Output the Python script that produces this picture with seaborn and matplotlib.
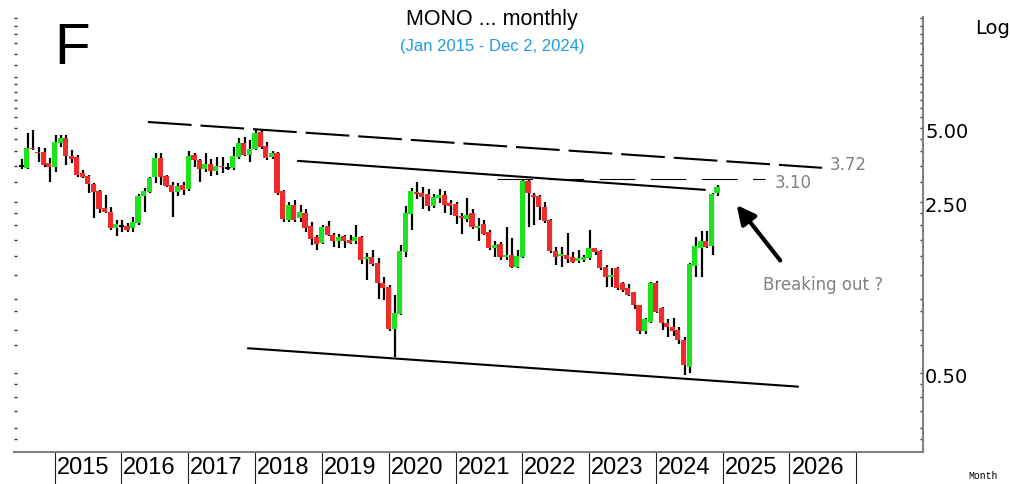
import matplotlib
matplotlib.use("Agg")
import numpy as np
import pandas as pd
import matplotlib.pyplot as plt
import matplotlib.dates as mdates
import matplotlib.transforms as mtransforms
from matplotlib.ticker import FixedLocator, NullFormatter
import seaborn as sns

# monthly candles, Jul 2014 .. Dec 2024
months = pd.date_range("2014-07-01", periods=126, freq="MS")

open_ = [3.49, 3.42, 4.13, 3.99, 3.99, 3.59, 3.46, 4.33, 4.53, 3.83,
         3.79, 3.27, 3.18, 2.95, 2.76, 2.35, 2.27, 1.95, 1.99, 1.99,
         1.95, 2.04, 2.63, 2.73, 3.15, 3.76, 3.18, 2.92, 2.73, 2.92,
         2.81, 3.87, 3.70, 3.39, 3.56, 3.33, 3.49, 3.42, 3.42, 3.79,
         4.33, 3.87, 4.09, 4.80, 4.21, 3.79, 3.95, 2.76, 2.10, 2.42,
         2.14, 2.25, 1.99, 1.79, 1.70, 1.99, 1.83, 1.72, 1.81, 1.74,
         1.72, 1.79, 1.46, 1.49, 1.41, 1.17, 1.12, 0.76, 0.87, 1.56,
         2.22, 2.73, 2.71, 2.68, 2.40, 2.59, 2.66, 2.47, 2.45, 2.18,
         2.12, 2.25, 1.95, 2.03, 1.88, 1.61, 1.68, 1.49, 1.52, 1.35,
         1.49, 3.04, 2.66, 2.63, 2.38, 2.10, 1.58, 1.50, 1.52, 1.49,
         1.43, 1.45, 1.47, 1.61, 1.58, 1.35, 1.23, 1.34, 1.16, 1.11,
         1.07, 0.95, 0.74, 0.81, 1.17, 0.92, 0.80, 0.77, 0.75, 0.68,
         0.53, 1.37, 1.61, 1.72, 1.65, 2.71]
close_ = [3.49, 4.13, 4.09, 3.95, 3.52, 3.46, 4.37, 4.53, 3.83, 3.72,
          3.21, 3.15, 2.95, 2.73, 2.33, 2.27, 1.95, 2.03, 1.99, 1.92,
          2.06, 2.63, 2.76, 3.12, 3.76, 3.15, 2.89, 2.73, 2.89, 2.79,
          3.83, 3.70, 3.39, 3.56, 3.33, 3.49, 3.46, 3.42, 3.83, 4.33,
          3.87, 4.09, 4.75, 4.17, 3.76, 3.95, 2.71, 2.12, 2.42, 2.10,
          2.27, 1.95, 1.76, 1.68, 1.97, 1.83, 1.72, 1.79, 1.72, 1.70,
          1.79, 1.45, 1.49, 1.39, 1.16, 1.11, 0.76, 0.88, 1.58, 2.24,
          2.76, 2.68, 2.61, 2.40, 2.61, 2.66, 2.42, 2.40, 2.18, 2.14,
          2.20, 1.97, 1.99, 1.84, 1.61, 1.67, 1.49, 1.52, 1.35, 1.50,
          3.04, 2.71, 2.61, 2.38, 2.08, 1.58, 1.49, 1.53, 1.46, 1.42,
          1.47, 1.49, 1.61, 1.56, 1.34, 1.23, 1.25, 1.11, 1.09, 1.04,
          0.95, 0.74, 0.83, 1.17, 0.89, 0.80, 0.77, 0.74, 0.68, 0.54,
          1.39, 1.65, 1.72, 1.63, 2.68, 2.87]
high_ = [3.72, 4.75, 4.89, 4.17, 4.13, 3.76, 4.66, 4.66, 4.66, 4.05,
         3.87, 3.36, 3.21, 2.98, 2.79, 2.66, 2.38, 2.10, 2.10, 2.04,
         2.16, 2.68, 2.84, 3.15, 3.95, 3.95, 3.21, 3.01, 2.98, 3.01,
         4.03, 3.95, 3.72, 3.95, 3.72, 3.79, 3.79, 3.59, 4.17, 4.53,
         4.58, 4.46, 4.89, 4.93, 4.37, 4.03, 3.99, 2.79, 2.49, 2.54,
         2.42, 2.33, 2.06, 1.83, 2.01, 2.08, 1.86, 1.84, 1.83, 1.83,
         2.01, 1.81, 1.55, 1.59, 1.47, 1.23, 1.14, 1.04, 1.66, 2.40,
         2.84, 3.01, 2.87, 2.81, 2.68, 2.81, 2.76, 2.54, 2.49, 2.25,
         2.59, 2.33, 2.14, 2.10, 1.92, 1.72, 1.71, 1.97, 1.78, 1.59,
         3.10, 3.08, 2.71, 2.66, 2.49, 2.12, 1.63, 1.63, 1.86, 1.56,
         1.59, 1.52, 1.92, 1.62, 1.59, 1.38, 1.34, 1.35, 1.18, 1.15,
         1.07, 0.95, 0.84, 1.18, 1.19, 0.93, 0.83, 0.84, 0.77, 0.70,
         1.41, 1.79, 1.90, 1.90, 2.71, 2.92]
low_ = [3.39, 3.39, 4.05, 3.63, 3.46, 3.01, 3.31, 4.17, 3.52, 3.59,
        3.15, 3.12, 2.71, 2.14, 2.25, 2.25, 1.92, 1.81, 1.88, 1.88,
        1.88, 2.01, 2.27, 2.71, 2.98, 2.92, 2.87, 2.16, 2.63, 2.66,
        2.76, 3.46, 3.01, 3.31, 3.18, 3.21, 3.27, 3.36, 3.36, 3.72,
        3.83, 3.63, 4.05, 4.09, 3.70, 3.72, 2.66, 2.06, 2.06, 2.06,
        2.06, 1.88, 1.66, 1.59, 1.68, 1.81, 1.63, 1.61, 1.61, 1.68,
        1.68, 1.39, 1.20, 1.37, 1.00, 0.99, 0.74, 0.585, 0.86, 1.49,
        1.92, 2.57, 2.33, 2.29, 2.35, 2.47, 2.25, 2.20, 2.03, 1.84,
        2.06, 1.93, 1.72, 1.83, 1.59, 1.49, 1.45, 1.45, 1.34, 1.34,
        1.47, 1.97, 2.01, 2.10, 2.04, 1.55, 1.38, 1.35, 1.41, 1.41,
        1.41, 1.42, 1.45, 1.52, 1.31, 1.12, 1.12, 1.09, 1.07, 1.03,
        0.91, 0.72, 0.72, 0.80, 0.88, 0.75, 0.70, 0.71, 0.66, 0.49,
        0.50, 1.23, 1.23, 1.61, 1.52, 2.63]

# trend lines drawn on the chart (date, price)
upper_dash_dates = ["2016-05-25", "2026-06-28"]
upper_dash_prices = [5.27, 3.43]
upper_line_dates = ["2018-08-23", "2024-09-26"]
upper_line_prices = [3.66, 2.79]
resist_dates = ["2021-08-16", "2025-08-20"]
resist_prices = [3.10, 3.10]
lower_line_dates = ["2017-11-23", "2026-02-17"]
lower_line_prices = [0.632, 0.441]
arrow_tip = ("2025-03-09", 2.47)
arrow_tail = ("2025-11-21", 1.41)

years = list(range(2015, 2027))
price_ticks = [5.0, 2.5, 0.5]
price_tick_labels = ["5.00", "2.50", "0.50"]
minor_prices = [14, 13, 12, 11, 10, 9, 8, 7.5, 7, 6.5, 6, 5.5, 4.5, 4, 3.5, 3,
                2.25, 2, 1.75, 1.5, 1.25, 1, 0.9, 0.75, 0.65, 0.45, 0.4, 0.35,
                0.3, 0.27]

sns.set_style("white")
plt.rcParams["font.family"] = ["DejaVu Sans"]
plt.rcParams["text.color"] = "black"
plt.rcParams["xtick.color"] = "black"
plt.rcParams["ytick.color"] = "black"

fig = plt.figure(figsize=(10.1, 4.84), dpi=100)
ax = fig.add_axes([14 / 1010, 32 / 484, 909 / 1010, 435 / 484])

df = pd.DataFrame({"date": months, "open": open_, "close": close_,
                   "high": high_, "low": low_})
x = mdates.date2num(df["date"])
up = df["close"] >= df["open"]
colors = np.where(up, "#1de21d", "#ee2c2c")

# wicks then bodies
ax.vlines(x + 6, df["low"], df["high"], color="black", lw=1.6, zorder=2)
ax.bar(x, df["close"] - df["open"], bottom=df["open"], width=28,
       color=colors, linewidth=0, zorder=3)
flat = (df["close"] - df["open"]).abs() < 0.005
ax.hlines(df["open"][flat], x[flat] - 11, x[flat] + 15, color="black",
          lw=1.5, zorder=4)

def dn(d):
    return mdates.date2num(pd.to_datetime(d))

ax.plot(dn(upper_dash_dates), upper_dash_prices, color="black", lw=1.5,
        linestyle=(0, (21, 4.3)))
ax.plot(dn(upper_line_dates), upper_line_prices, color="black", lw=1.5)
ax.plot(dn(resist_dates), resist_prices, color="black", lw=0.8,
        linestyle=(0, (32, 14)))
ax.plot(dn(lower_line_dates), lower_line_prices, color="black", lw=1.5)
ax.annotate("", xy=(dn(arrow_tip[0]), arrow_tip[1]),
            xytext=(dn(arrow_tail[0]), arrow_tail[1]),
            arrowprops=dict(arrowstyle="-|>", color="black", lw=3,
                            mutation_scale=28))

ax.set_yscale("log")
ax.set_ylim(0.239, 14.1)
ax.set_xlim(dn("2014-05-24"), dn("2028-01-01"))

ax.yaxis.set_major_locator(FixedLocator(price_ticks))
ax.set_yticklabels(price_tick_labels)
ax.yaxis.set_minor_locator(FixedLocator(minor_prices))
ax.yaxis.set_minor_formatter(NullFormatter())
ax.tick_params(axis="y", which="both", left=True, right=True,
               labelleft=False, labelright=True, direction="in",
               length=2.5, width=1, color="#333333", pad=1.5,
               labelsize=14)
shift = mtransforms.ScaledTranslation(0, -2.5 / 100, fig.dpi_scale_trans)
for lab in ax.get_yticklabels():
    lab.set_transform(lab.get_transform() + shift)

# year separators below the axis
ax.set_xticks([dn(f"{y}-01-01") for y in years + [2027]])
ax.set_xticklabels([])
ax.tick_params(axis="x", which="major", bottom=True, direction="out",
               length=23, width=0.8, color="#222222")
trans = mtransforms.blended_transform_factory(ax.transData, ax.transAxes)
for y in years:
    ax.text(dn(f"{y}-01-01") + 11, -0.037, str(y), transform=trans,
            ha="left", va="center", fontsize=17,
            family=["Liberation Sans", "DejaVu Sans"])

for side in ["top", "left"]:
    ax.spines[side].set_visible(False)
for side in ["right", "bottom"]:
    ax.spines[side].set_color("#808080")
    ax.spines[side].set_linewidth(1.5)
ax.grid(False)

fig.text(492 / 1010, 1 - 20 / 484, "MONO ... monthly", ha="center",
         va="center", fontsize=15.5, family=["Liberation Sans", "DejaVu Sans"])
fig.text(492 / 1010, 1 - 47 / 484, "(Jan 2015 - Dec 2, 2024)", ha="center",
         va="center", fontsize=12, color="#1e9be8",
         family=["Liberation Sans", "DejaVu Sans"])
fig.text(54 / 1010, 1 - 49 / 484, "F", ha="left", va="center", fontsize=42,
         family=["Liberation Sans", "DejaVu Sans"])
fig.text(975 / 1010, 1 - 28 / 484, "Log", ha="left", va="center", fontsize=14)
fig.text(968 / 1010, 1 - 476 / 484, "Month", ha="left", va="center",
         fontsize=7, family=["Liberation Mono", "DejaVu Sans Mono"])
fig.text(830 / 1010, 1 - 165 / 484, "3.72", ha="left", va="center",
         fontsize=12, color="#808080")
fig.text(775 / 1010, 1 - 183 / 484, "3.10", ha="left", va="center",
         fontsize=12, color="#808080")
fig.text(763 / 1010, 1 - 285 / 484, "Breaking out ?", ha="left", va="center",
         fontsize=12, color="#808080")

fig.savefig("out.png", dpi=100)
